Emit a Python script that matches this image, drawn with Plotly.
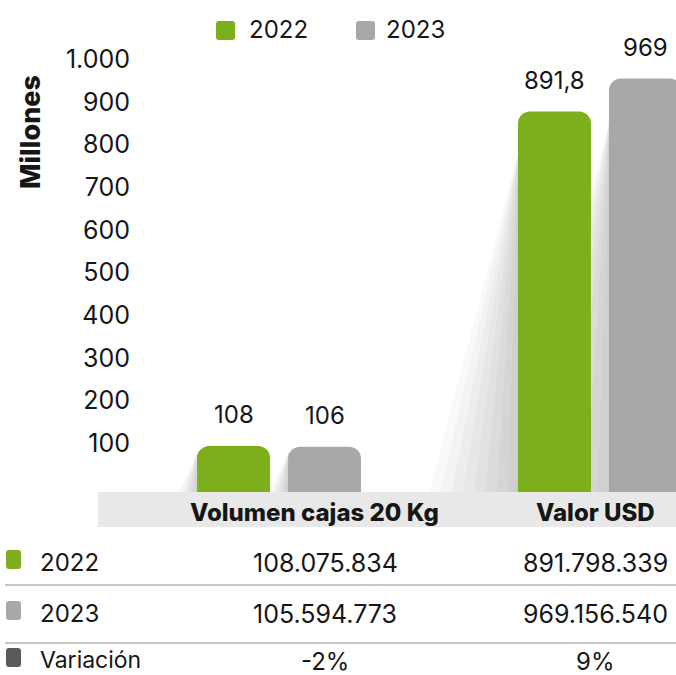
import plotly.graph_objects as go

categories = ["Volumen cajas 20 Kg", "Valor USD"]
years = ["2022", "2023"]
values_2022 = [108.0, 891.8]
values_2023 = [106.0, 969.0]
bar_labels_2022 = ["108", "891,8"]
bar_labels_2023 = ["106", "969"]
y_ticks = [100, 200, 300, 400, 500, 600, 700, 800, 900, 1000]

row_labels = ["2022", "2023", "Variación"]
table_volumen = ["108.075.834", "105.594.773", "-2%"]
table_valor = ["891.798.339", "969.156.540", "9%"]

GREEN = "#7DAE1B"
GRAY = "#A8A8A8"
DARK = "#5A5A5A"
TEXT = "#161616"
FONT = "Inter"

W, H = 676, 675
L, R, T, B = 135, 676, 40, 492
PX_PER_UNIT = 0.4267
X_RANGE = [-0.449, 1.237]
Y_RANGE = [0, (B - T) / PX_PER_UNIT]
SLOT = 0.2835


def px_x(p):
    return (p - L) / (R - L)


def px_y(p):
    return (B - p) / (B - T)


def rounded_box(x0, y0, x1, y1, r):
    # pixel box -> paper-coordinate path with rounded corners
    ax0, ax1 = px_x(x0), px_x(x1)
    ay0, ay1 = px_y(y1), px_y(y0)
    rx = r / (R - L)
    ry = r / (B - T)
    return (
        f"M {ax0 + rx},{ay0} L {ax1 - rx},{ay0} Q {ax1},{ay0} {ax1},{ay0 + ry} "
        f"L {ax1},{ay1 - ry} Q {ax1},{ay1} {ax1 - rx},{ay1} L {ax0 + rx},{ay1} "
        f"Q {ax0},{ay1} {ax0},{ay1 - ry} L {ax0},{ay0 + ry} Q {ax0},{ay0} {ax0 + rx},{ay0} Z"
    )


def text(x, y, s, size=25, anchor="center", weight=400):
    return dict(xref="paper", yref="paper", x=px_x(x), y=px_y(y), xanchor=anchor, yanchor="middle",
                text=s, showarrow=False, font=dict(size=size, color=TEXT, weight=weight))


fig = go.Figure()
fig.add_trace(go.Bar(x=[0, 1], y=values_2022, name=years[0], marker=dict(color=GREEN, cornerradius=12, line=dict(width=0))))
fig.add_trace(go.Bar(x=[0, 1], y=values_2023, name=years[1], marker=dict(color=GRAY, cornerradius=12, line=dict(width=0))))

shapes = []

# soft shadows on the left of each bar, under the bars
bar_width = SLOT * (1 - 0.198)
for offset, vals in [(-SLOT / 2, values_2022), (SLOT / 2, values_2023)]:
    for i, v in enumerate(vals):
        xl = i + offset - bar_width / 2 + 0.003
        spread = 0.03 + v * 0.00028
        for k in range(8):
            f = (k + 1) / 8
            shapes.append(dict(type="path", xref="x", yref="y", layer="below", line=dict(width=0),
                               fillcolor="rgba(0,0,0,0.022)",
                               path=f"M {xl},{v * 0.9} L {xl},0 L {xl - spread * f},0 Z"))

annotations = []
for i in range(2):
    annotations.append(dict(x=i - SLOT / 2, y=values_2022[i], text=bar_labels_2022[i], showarrow=False, yshift=31,
                            yanchor="middle", font=dict(size=24, color=TEXT)))
    annotations.append(dict(x=i + SLOT / 2, y=values_2023[i], text=bar_labels_2023[i], showarrow=False, yshift=31,
                            yanchor="middle", font=dict(size=24, color=TEXT)))

ann = text(30, 132, "Millones", size=27, weight=800)
ann["textangle"] = -90
annotations.append(ann)

# legend
for sq_x, txt_x, color, label in [(216, 247, GREEN, years[0]), (356, 384, GRAY, years[1])]:
    shapes.append(dict(type="path", xref="paper", yref="paper", path=rounded_box(sq_x, 21, sq_x + 19, 40, 3), fillcolor=color, line=dict(width=0)))
    annotations.append(text(txt_x, 29, label, size=24, anchor="left"))

# category band
shapes.append(dict(type="rect", xref="paper", yref="paper", x0=px_x(98), x1=1, y0=px_y(527), y1=0, fillcolor="#E8E8E8", line=dict(width=0), layer="below"))
for cx, label in [(314, categories[0]), (595, categories[1])]:
    annotations.append(text(cx, 512, label, size=24, weight=800))

# table
row_y = [562, 613, 660]
row_sizes = [25, 25, 24]
row_colors = [GREEN, GRAY, DARK]
for y, size, label, color, v1, v2 in zip(row_y, row_sizes, row_labels, row_colors, table_volumen, table_valor):
    shapes.append(dict(type="path", xref="paper", yref="paper", path=rounded_box(6, y - 12, 21, y + 7, 3), fillcolor=color, line=dict(width=0)))
    annotations.append(text(38, y, label, size=size - 1, anchor="left"))
    annotations.append(text(325, y + 1, v1, size=size))
    annotations.append(text(595, y + 1, v2, size=size))
for ly in [585, 643]:
    shapes.append(dict(type="line", xref="paper", yref="paper", x0=px_x(5), x1=1, y0=px_y(ly), y1=px_y(ly), line=dict(color="#C8C8C8", width=2)))

fig.update_layout(
    width=W, height=H,
    margin=dict(l=L, r=W - R, t=T, b=H - B),
    paper_bgcolor="white", plot_bgcolor="rgba(0,0,0,0)",
    font=dict(family=FONT, color=TEXT),
    separators=",.",
    barmode="group", bargap=0.433, bargroupgap=0.198,
    showlegend=False,
    xaxis=dict(range=X_RANGE, showticklabels=False, showgrid=False, zeroline=False, automargin=False),
    yaxis=dict(range=Y_RANGE, tickvals=y_ticks, tickformat=",d", showgrid=False, zeroline=False,
               ticks="", ticklabelshift=-6, ticklabelstandoff=4, tickfont=dict(size=25, color=TEXT), automargin=False),
    annotations=annotations,
    shapes=shapes,
)

fig.write_html("out.html", config={"displayModeBar": False}, post_script="document.body.style.margin='0';")
